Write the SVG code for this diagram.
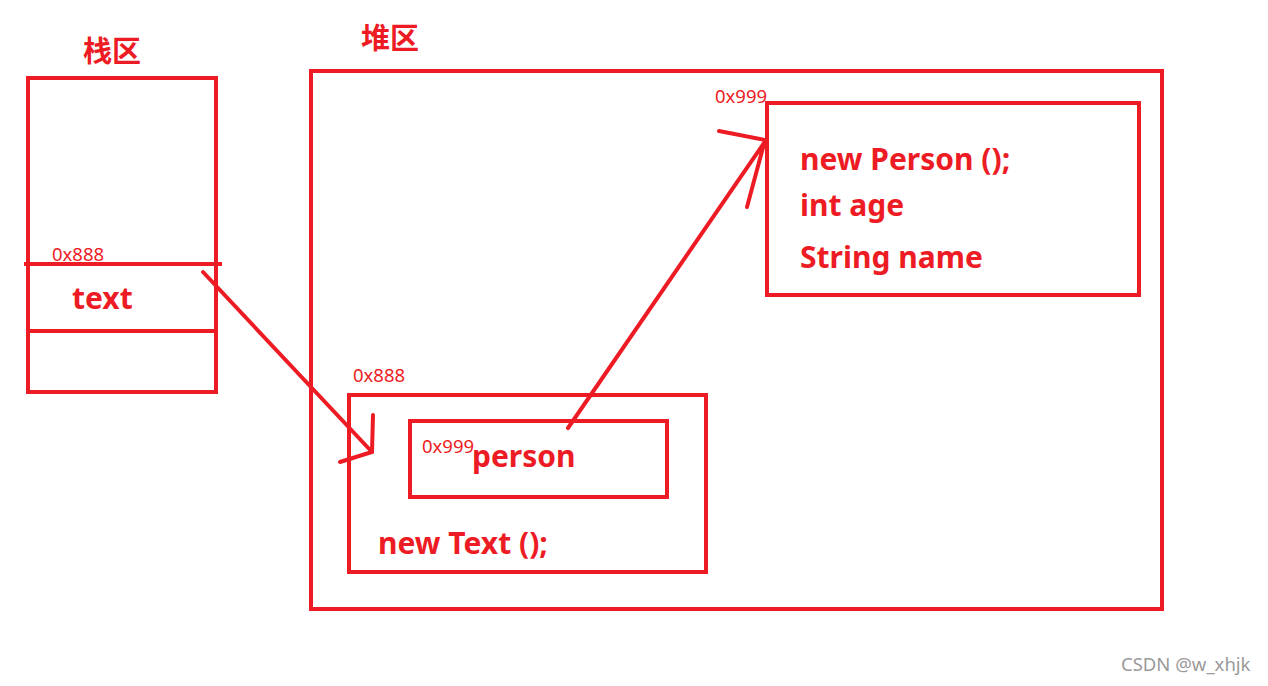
<svg xmlns="http://www.w3.org/2000/svg" width="1268" height="686" viewBox="0 0 1268 686">
<style>
.box{fill:none;stroke:#ED1C24;stroke-width:4}
.ln{stroke:#ED1C24;stroke-width:4;stroke-linecap:round;fill:none}
.b{font-family:"Noto Sans","Noto Sans CJK SC",sans-serif;font-weight:bold;font-size:30px;fill:#ED1C24}
.h{font-family:"Noto Sans CJK SC","Noto Sans",sans-serif;font-weight:bold;font-size:29px;fill:#ED1C24}
.a{font-family:"Noto Sans",sans-serif;font-size:18.5px;fill:#ED1C24}
.w{font-family:"Noto Sans",sans-serif;font-size:18.5px;fill:#9a9a9a}
</style>
<rect width="1268" height="686" fill="#fff"/>
<g id="stack">
<text class="h" x="83" y="62">栈区</text>
<rect class="box" x="28" y="78" width="188" height="314"/>
<line class="ln" x1="24" y1="264" x2="222" y2="264" style="stroke-linecap:butt"/>
<line class="ln" x1="28" y1="331" x2="216" y2="331" style="stroke-linecap:butt"/>
<text class="a" x="52" y="261">0x888</text>
<text class="b" x="72" y="309">text</text>
</g>
<g id="heap">
<text class="h" x="361" y="49">堆区</text>
<rect class="box" x="311" y="71" width="851" height="538"/>
</g>
<g id="person-obj">
<text class="a" x="715" y="103">0x999</text>
<rect class="box" x="767" y="103" width="372" height="192"/>
<text class="b" x="800" y="170">new Person ();</text>
<text class="b" x="800" y="216">int age</text>
<text class="b" x="800" y="268">String name</text>
</g>
<g id="text-obj">
<text class="a" x="353" y="382">0x888</text>
<rect class="box" x="349" y="395" width="357" height="177"/>
<rect class="box" x="410" y="421" width="257" height="76"/>
<text class="a" x="422" y="453">0x999</text>
<text class="b" x="472" y="467">person</text>
<text class="b" x="378" y="554">new Text ();</text>
</g>
<g id="connectors">
<path class="ln" d="M203 272 L372 452 M373 415 L372 452 L340 462"/>
<path class="ln" d="M568 428 L766 140 M719 131 L765 140 L747 207"/>
</g>
<text class="w" x="1121" y="671">CSDN @w_xhjk</text>
</svg>
